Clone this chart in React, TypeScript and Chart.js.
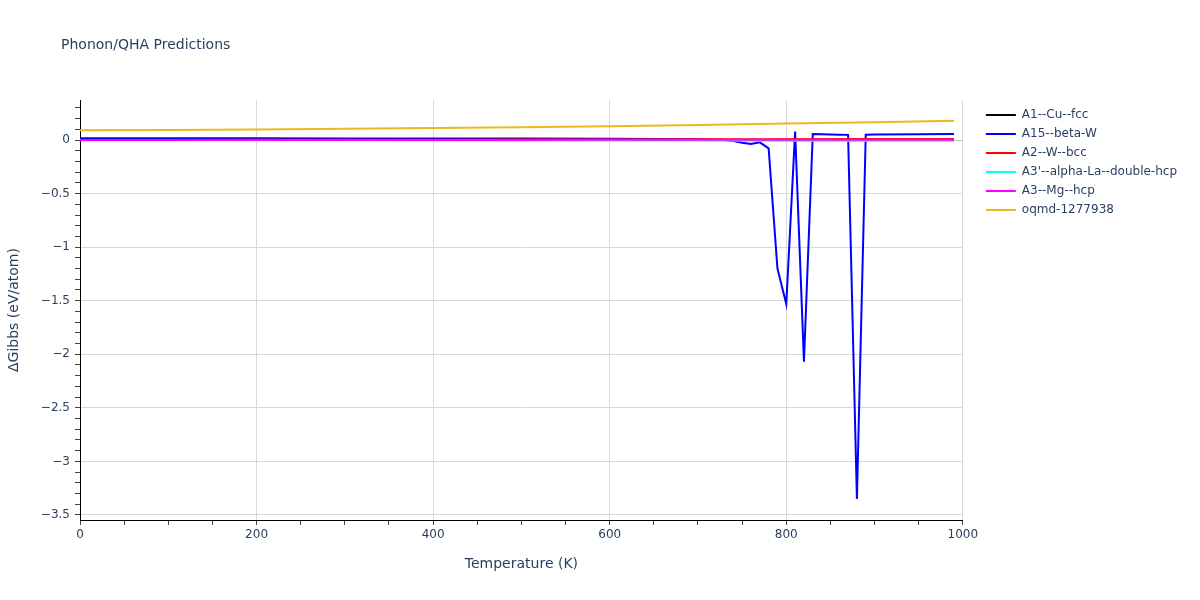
import React, { useEffect, useRef } from "react";
import { Chart, registerables } from "chart.js";

Chart.register(...registerables);

// Temperatures (K)
const T_COARSE = [0, 100, 200, 300, 400, 500, 600, 700, 800, 900, 990];
const T_A15 = [0, 100, 200, 300, 400, 500, 600, 650, 700, 720, 730, 740, 750, 760, 770, 780, 790, 800, 810, 820, 830, 840, 850, 860, 870, 880, 890, 900, 950, 990];

// ΔGibbs (eV/atom)
const A1_CU_FCC = [0, 0, 0, 0, 0, 0, 0, 0, 0, 0, 0];
const A15_BETA_W = [0.016, 0.016, 0.016, 0.015, 0.015, 0.014, 0.012, 0.01, 0.006, 0.003, 0.0, -0.01, -0.025, -0.037, -0.022, -0.078, -1.2, -1.53, 0.078, -2.07, 0.056, 0.054, 0.052, 0.05, 0.048, -3.35, 0.05, 0.051, 0.054, 0.057];
const A2_W_BCC = [0, 0.001, 0.002, 0.002, 0.003, 0.004, 0.005, 0.006, 0.008, 0.009, 0.01];
const A3P_ALPHA_LA = [0, 0, -0.001, -0.001, -0.002, -0.003, -0.004, -0.005, -0.006, -0.007, -0.008];
const A3_MG_HCP = [0, 0, 0, 0.001, 0.001, 0.001, 0.002, 0.002, 0.003, 0.003, 0.003];
const OQMD_1277938 = [0.09, 0.093, 0.098, 0.104, 0.111, 0.119, 0.129, 0.141, 0.153, 0.166, 0.179];

const SERIES_NAMES = ["A1--Cu--fcc", "A15--beta-W", "A2--W--bcc", "A3'--alpha-La--double-hcp", "A3--Mg--hcp", "oqmd-1277938"];
const SERIES_COLORS = ["#000000", "#0000ff", "#ff0000", "#00ffff", "#ff00ff", "#ecb91c"];

const X_LABELS = [0, 200, 400, 600, 800, 1000];

const TEXT_COLOR = "#2a3f5f";
const FONT = "'DejaVu Sans', Verdana, sans-serif";

function pts(xs: number[], ys: number[]) {
  return xs.map((x, i) => ({ x, y: ys[i] }));
}

const titlePlugin = {
  id: "customTitle",
  afterDraw(chart: any) {
    const ctx = chart.ctx;
    ctx.save();
    ctx.font = `14px ${FONT}`;
    ctx.fillStyle = TEXT_COLOR;
    ctx.textAlign = "left";
    ctx.textBaseline = "middle";
    ctx.fillText("Phonon/QHA Predictions", 61, 45);
    ctx.restore();
  },
};

// moves the legend box a little away from the plot area
const legendShiftPlugin = {
  id: "legendShift",
  afterLayout(chart: any) {
    const l = chart.legend;
    if (!l) return;
    const shift = 16;
    l.left += shift;
    l.right += shift;
    l.top += 2;
    l.bottom += 2;
  },
};

const isMult = (v: number, step: number) => Math.abs(v / step - Math.round(v / step)) < 1e-6;
const fmt = (v: number) => {
  const r = Math.round(v * 10) / 10;
  if (r === 0) return "0";
  return (r < 0 ? "\u2212" : "") + String(Math.abs(r));
};

export default function App() {
  const ref = useRef<HTMLCanvasElement | null>(null);
  useEffect(() => {
    if (!ref.current) return;
    const seriesX = [T_COARSE, T_A15, T_COARSE, T_COARSE, T_COARSE, T_COARSE];
    const seriesY = [A1_CU_FCC, A15_BETA_W, A2_W_BCC, A3P_ALPHA_LA, A3_MG_HCP, OQMD_1277938];
    const datasets = SERIES_NAMES.map((name, i) => ({
      label: name,
      data: pts(seriesX[i], seriesY[i]),
      borderColor: SERIES_COLORS[i],
      backgroundColor: SERIES_COLORS[i],
      borderWidth: 2,
      pointRadius: 0,
      tension: 0,
      order: -i,
    }));
    const chart = new Chart(ref.current, {
      type: "line",
      data: { datasets },
      plugins: [titlePlugin, legendShiftPlugin],
      options: {
        animation: false,
        responsive: false,
        devicePixelRatio: 1,
        layout: { padding: { left: 0, top: 100, right: 29, bottom: 0 } },
        plugins: {
          title: { display: false },
          tooltip: { enabled: false },
          legend: {
            position: "right",
            align: "start",
            labels: {
              boxWidth: 30,
              boxHeight: 2,
              padding: 7,
              color: TEXT_COLOR,
              font: { family: FONT, size: 12 },
              sort: (a: any, b: any) => a.datasetIndex - b.datasetIndex,
              generateLabels: (c: any) =>
                (Chart.defaults.plugins.legend.labels as any).generateLabels(c).map((l: any) => ({ ...l, lineWidth: 0 })),
            },
          },
        },
        scales: {
          x: {
            type: "linear",
            min: 0,
            max: 1000,
            afterFit: (s: any) => {
              s.height = 80;
            },
            border: { color: "#000000", width: 1 },
            grid: {
              color: (c: any) => (c.tick && isMult(c.tick.value, 200) && c.tick.value !== 0 ? "#d9d9d9" : "rgba(0,0,0,0)"),
              tickColor: "#444444",
              tickLength: 5,
            },
            ticks: {
              stepSize: 50,
              autoSkip: false,
              maxRotation: 0,
              padding: 3,
              color: TEXT_COLOR,
              font: { family: FONT, size: 12 },
              callback: (v: any) => (X_LABELS.includes(Math.round(v)) && isMult(v, 200) ? String(Math.round(v)) : ""),
            },
            title: {
              display: true,
              text: "Temperature (K)",
              color: TEXT_COLOR,
              font: { family: FONT, size: 14 },
              padding: { top: 0, bottom: 27 },
            },
          },
          y: {
            type: "linear",
            min: -3.547,
            max: 0.3735,
            afterFit: (s: any) => {
              s.width = 80;
            },
            border: { color: "#000000", width: 1 },
            grid: {
              color: (c: any) => {
                if (!c.tick) return "rgba(0,0,0,0)";
                const v = c.tick.value;
                if (Math.abs(v) < 1e-6) return "#c8c8c8";
                return isMult(v, 0.5) ? "#d9d9d9" : "rgba(0,0,0,0)";
              },
              tickColor: "#444444",
              tickLength: 5,
            },
            ticks: {
              stepSize: 0.1,
              autoSkip: false,
              includeBounds: false,
              padding: 5,
              color: TEXT_COLOR,
              font: { family: FONT, size: 12 },
              callback: (v: any) => (isMult(v, 0.5) ? fmt(v) : ""),
            },
            title: {
              display: true,
              text: "ΔGibbs (eV/atom)",
              color: TEXT_COLOR,
              font: { family: FONT, size: 14 },
              padding: { top: 6, bottom: 0 },
            },
          },
        },
      } as any,
    });
    return () => chart.destroy();
  }, []);
  return (
    <div style={{ position: "absolute", left: 0, top: 0, width: 1200, height: 600, background: "#ffffff" }}>
      <canvas ref={ref} width={1200} height={600} />
    </div>
  );
}
